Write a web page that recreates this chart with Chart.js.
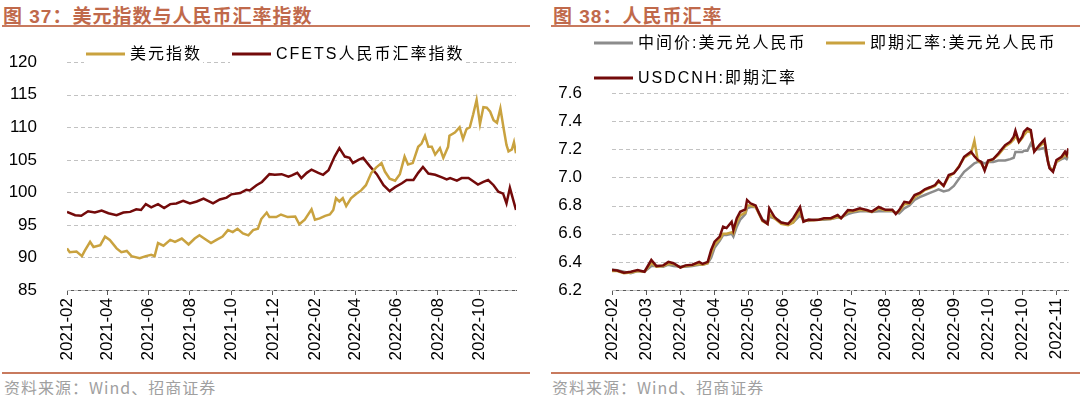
<!DOCTYPE html>
<html>
<head>
<meta charset="utf-8">
<script src="https://cdn.jsdelivr.net/npm/chart.js"></script>
<style>
  body { margin: 0; background: #fff; width: 1080px; height: 395px; position: relative; overflow: hidden; }
  .title { position: absolute; top: 1px; font: bold 19px "Liberation Sans", "Noto Sans CJK SC", sans-serif; letter-spacing: 1px; color: #c0694b; white-space: nowrap; }
  .rule { position: absolute; height: 2px; background: #c87a5e; }
  .src { position: absolute; top: 375px; font: 16px "Noto Sans CJK SC", sans-serif; letter-spacing: 1px; color: #a0a0a0; white-space: nowrap; }
  .box { position: absolute; top: 30px; width: 540px; height: 342px; }
</style>
</head>
<body>
<div class="title" style="left:3px">图 37：美元指数与人民币汇率指数</div>
<div class="rule" style="left:2px; width:528px; top:25px"></div>
<div class="rule" style="left:2px; width:528px; top:372px"></div>
<div class="src" style="left:4px">资料来源：Wind、招商证券</div>

<div class="title" style="left:553px">图 38：人民币汇率</div>
<div class="rule" style="left:551px; width:529px; top:25px"></div>
<div class="rule" style="left:551px; width:529px; top:372px"></div>
<div class="src" style="left:552px">资料来源：Wind、招商证券</div>

<div class="box" style="left:0"><canvas id="chart37" width="540" height="342"></canvas></div>
<div class="box" style="left:540px"><canvas id="chart38" width="540" height="342"></canvas></div>

<script>
// 图37 美元指数 / CFETS
const dxyDates = ['2021-02-01','2021-02-05','2021-02-15','2021-02-23','2021-02-27','2021-03-07','2021-03-12','2021-03-22','2021-03-29','2021-04-05','2021-04-15','2021-04-22','2021-04-30','2021-05-07','2021-05-19','2021-05-28','2021-06-05','2021-06-10','2021-06-15','2021-06-23','2021-07-03','2021-07-10','2021-07-20','2021-07-30','2021-08-08','2021-08-15','2021-08-22','2021-09-01','2021-09-09','2021-09-18','2021-09-26','2021-10-03','2021-10-10','2021-10-18','2021-10-26','2021-11-02','2021-11-09','2021-11-14','2021-11-22','2021-11-26','2021-12-06','2021-12-13','2021-12-23','2022-01-03','2022-01-09','2022-01-17','2022-01-27','2022-02-01','2022-02-08','2022-02-16','2022-02-23','2022-02-28','2022-03-04','2022-03-09','2022-03-14','2022-03-19','2022-03-26','2022-04-03','2022-04-10','2022-04-17','2022-04-25','2022-05-02','2022-05-10','2022-05-15','2022-05-22','2022-05-30','2022-06-06','2022-06-13','2022-06-18','2022-06-25','2022-07-03','2022-07-08','2022-07-13','2022-07-18','2022-07-23','2022-07-28','2022-08-04','2022-08-09','2022-08-16','2022-08-18','2022-08-26','2022-09-02','2022-09-07','2022-09-12','2022-09-17','2022-09-22','2022-09-27','2022-10-02','2022-10-07','2022-10-12','2022-10-17','2022-10-22','2022-10-27','2022-11-01','2022-11-06','2022-11-10','2022-11-13','2022-11-18','2022-11-21','2022-11-24'];
const dxyValues = [91.4,90.8,90.9,90.2,91.0,92.4,91.6,91.9,93.2,92.7,91.4,90.8,91.0,90.2,89.9,90.2,90.4,90.2,92.2,91.8,92.7,92.4,92.9,92.0,92.9,93.4,92.9,92.2,92.7,93.2,94.2,93.9,94.4,93.7,93.4,94.2,94.4,95.9,96.9,96.2,96.2,96.6,96.2,96.3,95.1,95.8,97.4,95.8,96.0,96.4,96.6,97.3,99.1,98.6,99.1,97.9,99.1,99.8,100.3,101.1,103.0,103.8,104.5,103.2,102.1,101.8,102.8,105.5,104.3,104.5,107.0,107.5,108.7,107.0,107.0,105.8,106.8,105.3,107.0,108.7,109.2,110.0,108.2,109.7,110.0,112.0,114.2,110.5,113.1,113.0,112.4,111.1,110.7,112.9,109.7,107.3,106.3,106.6,107.7,106.0];

const cfetsDates = ['2021-02-01','2021-02-13','2021-02-22','2021-03-04','2021-03-14','2021-03-24','2021-04-03','2021-04-15','2021-04-25','2021-05-05','2021-05-14','2021-05-21','2021-05-28','2021-06-05','2021-06-15','2021-06-24','2021-07-03','2021-07-12','2021-07-22','2021-08-01','2021-08-11','2021-08-21','2021-09-04','2021-09-14','2021-09-24','2021-10-01','2021-10-14','2021-10-23','2021-10-28','2021-11-07','2021-11-15','2021-11-26','2021-12-04','2021-12-14','2021-12-24','2021-12-29','2022-01-06','2022-01-12','2022-01-20','2022-01-27','2022-02-06','2022-02-13','2022-02-21','2022-03-02','2022-03-09','2022-03-17','2022-03-24','2022-03-29','2022-04-06','2022-04-13','2022-04-23','2022-05-03','2022-05-13','2022-05-22','2022-05-30','2022-06-09','2022-06-16','2022-06-26','2022-07-03','2022-07-10','2022-07-18','2022-07-28','2022-08-07','2022-08-14','2022-08-19','2022-08-29','2022-09-05','2022-09-15','2022-09-22','2022-09-29','2022-10-07','2022-10-14','2022-10-22','2022-10-29','2022-11-05','2022-11-10','2022-11-15','2022-11-20','2022-11-24'];
const cfetsValues = [97.0,96.5,96.4,97.1,96.9,97.2,96.8,96.5,96.9,97.0,97.4,97.3,98.2,97.7,98.2,97.6,98.2,98.3,98.7,98.3,98.6,99.05,98.3,98.9,99.2,99.7,99.9,100.4,100.3,101.1,101.6,102.8,102.7,102.8,102.4,102.6,103.0,102.2,103.0,103.5,103.0,102.7,103.4,105.5,106.8,105.5,105.3,104.5,105.0,105.3,104.0,102.8,101.1,100.2,100.8,101.4,101.9,101.9,103.0,103.9,102.9,102.7,102.3,102.0,102.2,101.8,102.2,102.2,101.7,101.2,101.6,101.9,101.1,100.1,99.8,98.3,100.7,98.8,97.3];

const ticks37 = ['2021-02-01','2021-04-01','2021-06-01','2021-08-01','2021-10-01','2021-12-01','2022-02-01','2022-04-01','2022-06-01','2022-08-01','2022-10-01'];

// 图38 人民币汇率
const fxDates = ['2022-02-25','2022-02-28','2022-03-04','2022-03-08','2022-03-12','2022-03-16','2022-03-20','2022-03-23','2022-03-27','2022-03-30','2022-04-02','2022-04-06','2022-04-09','2022-04-13','2022-04-17','2022-04-19','2022-04-22','2022-04-24','2022-04-26','2022-04-29','2022-05-01','2022-05-03','2022-05-06','2022-05-07','2022-05-09','2022-05-11','2022-05-14','2022-05-15','2022-05-17','2022-05-20','2022-05-22','2022-05-24','2022-05-27','2022-05-28','2022-05-31','2022-06-02','2022-06-04','2022-06-08','2022-06-11','2022-06-15','2022-06-17','2022-06-20','2022-06-23','2022-06-26','2022-06-29','2022-07-03','2022-07-07','2022-07-09','2022-07-13','2022-07-16','2022-07-20','2022-07-24','2022-07-27','2022-07-31','2022-08-04','2022-08-08','2022-08-10','2022-08-12','2022-08-15','2022-08-18','2022-08-21','2022-08-24','2022-08-27','2022-08-30','2022-09-02','2022-09-04','2022-09-07','2022-09-10','2022-09-13','2022-09-16','2022-09-19','2022-09-23','2022-09-25','2022-09-27','2022-09-29','2022-10-01','2022-10-03','2022-10-06','2022-10-09','2022-10-11','2022-10-13','2022-10-16','2022-10-18','2022-10-19','2022-10-21','2022-10-23','2022-10-24','2022-10-26','2022-10-28','2022-10-30','2022-11-02','2022-11-05','2022-11-07','2022-11-08','2022-11-10','2022-11-12','2022-11-15','2022-11-17','2022-11-18','2022-11-19'];
const midValues = [6.345,6.340,6.330,6.320,6.335,6.330,6.370,6.370,6.365,6.380,6.370,6.365,6.365,6.370,6.380,6.380,6.390,6.430,6.500,6.550,6.590,6.590,6.600,6.580,6.650,6.700,6.740,6.780,6.790,6.790,6.750,6.700,6.680,6.720,6.710,6.700,6.680,6.670,6.680,6.730,6.700,6.690,6.700,6.700,6.700,6.705,6.715,6.715,6.740,6.750,6.760,6.760,6.755,6.760,6.760,6.760,6.750,6.745,6.780,6.800,6.840,6.860,6.875,6.890,6.905,6.915,6.900,6.910,6.940,6.990,7.040,7.080,7.100,7.110,7.110,7.100,7.110,7.110,7.120,7.120,7.120,7.130,7.140,7.180,7.180,7.180,7.190,7.190,7.240,7.200,7.200,7.210,7.120,7.070,7.050,7.110,7.130,7.140,7.130,7.150];
const spotValues = [6.335,6.335,6.320,6.325,6.335,6.330,6.390,6.365,6.370,6.385,6.385,6.360,6.370,6.375,6.385,6.380,6.390,6.460,6.520,6.560,6.600,6.600,6.610,6.600,6.680,6.730,6.750,6.800,6.800,6.790,6.740,6.690,6.670,6.740,6.710,6.690,6.670,6.660,6.680,6.760,6.690,6.695,6.695,6.700,6.705,6.705,6.720,6.710,6.755,6.760,6.770,6.765,6.755,6.780,6.765,6.765,6.745,6.760,6.810,6.815,6.860,6.880,6.910,6.925,6.940,6.970,6.940,7.005,7.030,7.080,7.140,7.170,7.260,7.120,7.100,7.060,7.110,7.130,7.160,7.190,7.220,7.245,7.270,7.300,7.250,7.280,7.300,7.330,7.320,7.190,7.220,7.250,7.120,7.070,7.050,7.110,7.140,7.160,7.150,7.180];
const cnhValues = [6.342,6.338,6.323,6.330,6.342,6.330,6.413,6.370,6.375,6.400,6.390,6.360,6.375,6.380,6.400,6.385,6.400,6.484,6.543,6.579,6.650,6.640,6.685,6.626,6.710,6.756,6.773,6.840,6.816,6.800,6.745,6.697,6.669,6.780,6.720,6.697,6.680,6.670,6.710,6.790,6.685,6.700,6.697,6.700,6.710,6.710,6.733,6.710,6.768,6.765,6.780,6.768,6.757,6.790,6.770,6.770,6.740,6.768,6.827,6.820,6.875,6.890,6.916,6.930,6.946,6.977,6.940,7.017,7.030,7.076,7.147,7.183,7.150,7.124,7.110,7.048,7.120,7.130,7.170,7.200,7.230,7.254,7.290,7.332,7.254,7.290,7.325,7.349,7.337,7.183,7.230,7.270,7.112,7.065,7.040,7.124,7.147,7.183,7.160,7.207];

const ticks38 = ['2022-02-25','2022-03-17','2022-04-06','2022-04-26','2022-05-16','2022-06-05','2022-06-25','2022-07-15','2022-08-04','2022-08-24','2022-09-13','2022-10-03','2022-10-23','2022-11-12'];

const GOLD = '#c9a23f';
const DARKRED = '#730a0a';
const GREY = '#8c8c8c';

const toDay = d => Date.parse(d) / 86400000;
const toMonth = v => new Date(v * 86400000).toISOString().slice(0, 7);
const points = (dates, vals) => dates.map((d, i) => ({ x: toDay(d), y: vals[i] }));

// dashed horizontal grid at each y tick, dashes laid down one by one
const dashedGrid = {
    id: 'dashedGrid',
    beforeDatasetsDraw(chart) {
        const { ctx, chartArea } = chart;
        const y = chart.scales.y;
        ctx.save();
        ctx.fillStyle = '#c2c2c2';
        y.ticks.forEach(t => {
            const py = Math.round(y.getPixelForValue(t.value));
            for (let px = chartArea.left; px < chartArea.right; px += 7) {
                ctx.fillRect(px, py, Math.min(4, chartArea.right - px), 1);
            }
        });
        ctx.restore();
    }
};

// legend drawn by hand so it can sit on the gridline like the original
const lineLegend = {
    id: 'lineLegend',
    afterDraw(chart, args, opts) {
        const ctx = chart.ctx;
        ctx.save();
        ctx.font = '16px "Liberation Sans", "Noto Sans CJK SC", sans-serif';
        ctx.letterSpacing = '2px';
        ctx.textBaseline = 'middle';
        chart.data.datasets.forEach((ds, i) => {
            const [x, y] = opts.items[i];
            const w = ctx.measureText(ds.label).width;
            ctx.fillStyle = '#fff';
            ctx.fillRect(x - 2, y - 11, 39 + 8 + w, 22);
            ctx.strokeStyle = ds.borderColor;
            ctx.lineWidth = 3;
            ctx.beginPath();
            ctx.moveTo(x, y);
            ctx.lineTo(x + 39, y);
            ctx.stroke();
            ctx.fillStyle = '#000';
            ctx.fillText(ds.label, x + 44, y + 1);
        });
        ctx.letterSpacing = '0px';
        ctx.restore();
    }
};

const tickFont = { family: '"Liberation Sans", Arial, sans-serif', size: 17 };

function xAxis(tickDates, first, last) {
    return {
        type: 'linear',
        min: toDay(first),
        max: toDay(last),
        afterBuildTicks: axis => { axis.ticks = tickDates.map(d => ({ value: toDay(d) })); },
        afterFit: s => { s.height = 82; },
        border: { display: true, color: '#595959', width: 1 },
        grid: { drawOnChartArea: false, drawTicks: true, tickLength: 5, color: '#595959' },
        ticks: {
            autoSkip: false, maxRotation: 90, minRotation: 90, padding: 3,
            color: '#000', font: tickFont,
            callback: v => toMonth(v)
        }
    };
}

function yAxis(min, max, step, width, digits) {
    return {
        min: min, max: max,
        afterFit: s => { s.width = width; },
        border: { display: false },
        grid: { display: false },
        ticks: { stepSize: step, padding: 22, color: '#000', font: tickFont, callback: v => v.toFixed(digits) }
    };
}

const common = {
    responsive: false,
    animation: false,
    elements: { point: { radius: 0 }, line: { tension: 0 } },
    plugins: { legend: { display: false }, tooltip: { enabled: false } }
};

new Chart(document.getElementById('chart37'), {
    type: 'line',
    data: {
        datasets: [
            { label: '美元指数', data: points(dxyDates, dxyValues), borderColor: GOLD, borderWidth: 2.5 },
            { label: 'CFETS人民币汇率指数', data: points(cfetsDates, cfetsValues), borderColor: DARKRED, borderWidth: 2.5 }
        ]
    },
    options: {
        ...common,
        layout: { padding: { top: 24, right: 24, left: 0, bottom: 0 } },
        scales: {
            x: xAxis(ticks37, '2021-02-01', '2022-11-24'),
            y: yAxis(85, 120, 5, 67, 0)
        },
        plugins: { ...common.plugins, lineLegend: { items: [[86, 24], [232, 24]] } }
    },
    plugins: [dashedGrid, lineLegend]
});

new Chart(document.getElementById('chart38'), {
    type: 'line',
    data: {
        datasets: [
            { label: '中间价:美元兑人民币', data: points(fxDates, midValues), borderColor: GREY, borderWidth: 2.5, order: 2 },
            { label: '即期汇率:美元兑人民币', data: points(fxDates, spotValues), borderColor: GOLD, borderWidth: 2.5, order: 1 },
            { label: 'USDCNH:即期汇率', data: points(fxDates, cnhValues), borderColor: DARKRED, borderWidth: 2.5, order: 0 }
        ]
    },
    options: {
        ...common,
        layout: { padding: { top: 63, right: 6, left: 0, bottom: 0 } },
        scales: {
            x: xAxis(ticks38, '2022-02-25', '2022-11-19'),
            y: yAxis(6.2, 7.6, 0.2, 72, 1)
        },
        plugins: { ...common.plugins, lineLegend: { items: [[54, 13], [286, 13], [54, 48]] } }
    },
    plugins: [dashedGrid, lineLegend]
});
</script>
</body>
</html>
